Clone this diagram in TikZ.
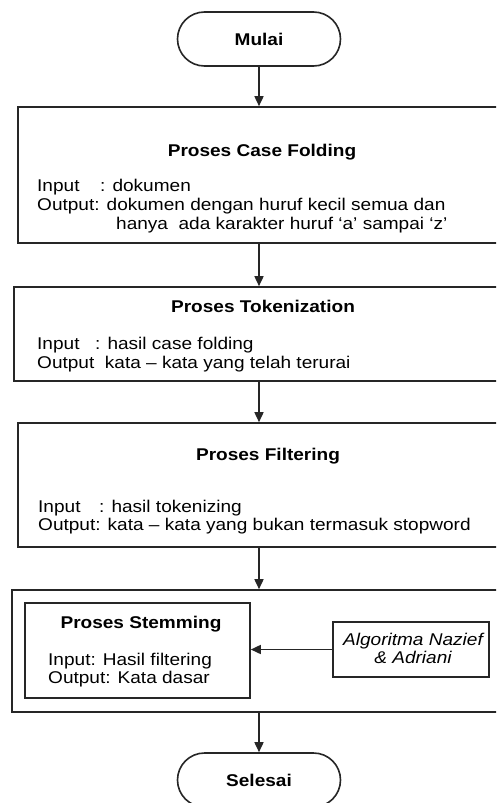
\documentclass[tikz,border=0pt]{standalone}
\usepackage{fontspec}
\setmainfont{Liberation Sans}[FakeStretch=1.12]
\usetikzlibrary{arrows.meta,shapes.misc}
\tikzset{
  line/.style={draw=black!85, line width=1.6pt},
  box/.style={line, rectangle, inner sep=0pt},
  term/.style={line, rounded rectangle, inner sep=0pt, minimum width=163pt, minimum height=54pt, font=\bfseries\fontsize{17}{20}\selectfont},
  flow/.style={line, -{Triangle[length=10pt,width=9pt]}},
  txt/.style={anchor=base west, inner sep=0pt, font=\fontsize{17}{20}\selectfont},
  ttl/.style={anchor=base, inner sep=0pt, font=\bfseries\fontsize{17}{20}\selectfont},
}
\begin{document}
\begin{tikzpicture}[x=1pt,y=-1pt]
\useasboundingbox (0,0) rectangle (496,803);
\clip (0,0) rectangle (496,803);
\fill[white] (0,0) rectangle (496,803);
% terminals
\node[term] (mulai) at (259,39) {Mulai};
\node[term] (selesai) at (259,780) {Selesai};
% boxes
\node[box, minimum width=489pt, minimum height=136pt] (cf) at (262.5,175) {};
\node[box, minimum width=493pt, minimum height=94pt] (tok) at (260.5,334) {};
\node[box, minimum width=489pt, minimum height=124pt] (fil) at (262.5,485) {};
\node[box, minimum width=495pt, minimum height=122pt] (stm) at (259.5,651) {};
\node[box, minimum width=225pt, minimum height=95pt] (inner) at (137.5,650.5) {};
\node[box, minimum width=156pt, minimum height=55pt] (alg) at (411,649.5) {};
% texts: case folding
\node[ttl] (cft) at (262,156) {Proses Case Folding};
\node[txt] (cf1) at (37,191) {\makebox[63pt][l]{Input}: dokumen};
\node[txt] (cf2) at (37,210) {Output: dokumen dengan huruf kecil semua dan};
\node[txt] (cf3) at (116,229) {hanya\ \ ada karakter huruf ‘a’ sampai ‘z’};
% tokenization
\node[ttl] (tokt) at (263,312) {Proses Tokenization};
\node[txt] (tok1) at (37,349) {\makebox[58pt][l]{Input}: hasil case folding};
\node[txt] (tok2) at (37,368) {Output\ \ kata -- kata yang telah terurai};
% filtering
\node[ttl] (filt) at (268,460) {Proses Filtering};
\node[txt] (fil1) at (38,512) {\makebox[61pt][l]{Input}: hasil tokenizing};
\node[txt] (fil2) at (38,530) {Output: kata -- kata yang bukan termasuk stopword};
% stemming
\node[ttl] (stmt) at (141,628) {Proses Stemming};
\node[txt] (stm1) at (48,665) {Input: Hasil filtering};
\node[txt] (stm2) at (48,683) {Output: Kata dasar};
\node[ttl, font=\itshape\fontsize{17}{20}\selectfont] (alg1) at (413,645) {Algoritma Nazief};
\node[ttl, font=\itshape\fontsize{17}{20}\selectfont] (alg2) at (413,663) {\& Adriani};
% connectors
\draw[flow] (mulai.south) -- (mulai.south |- cf.north);
\draw[flow] (mulai.south |- cf.south) -- (mulai.south |- tok.north);
\draw[flow] (mulai.south |- tok.south) -- (mulai.south |- fil.north);
\draw[flow] (mulai.south |- fil.south) -- (mulai.south |- stm.north);
\draw[flow] (mulai.south |- stm.south) -- (selesai.north);
\draw[flow] (alg.west) -- (alg.west -| inner.east);
\end{tikzpicture}
\end{document}
